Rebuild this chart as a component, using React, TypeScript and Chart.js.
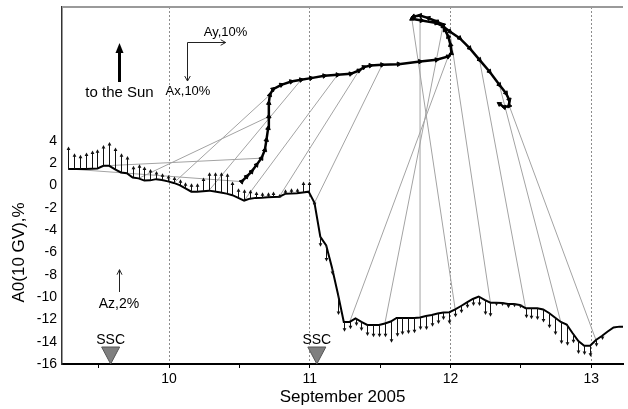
import React, { useEffect, useRef } from "react";
import { Chart, registerables } from "chart.js";

Chart.register(...registerables);

const FONT = '"Liberation Sans", Arial, sans-serif';

// Axis ranges (days of September 2005, UT) and A0 scale (%)
const X_MIN = 9.2394;
const X_MAX = 13.2254;
const Y_MIN = -16;
const Y_MAX = 16;
const Y_LABEL_MAX = 4;
const X_TICK_STEP = 0.5;
const Y_TICK_STEP = 2;

// hourly series start
const START_DAY = 9.2833;
const STEP_DAY = 1 / 24;

// A0(10 GV), % — hourly
const a0 = [
  1.49, 1.49, 1.49, 1.49, 1.51, 1.53, 1.76, 1.76, 1.44, 1.17,
  1.1, 0.71, 0.64, 0.44, 0.46, 0.57, 0.5, 0.37, 0.23, 0.03,
  -0.26, -0.55, -0.57, -0.51, -0.46, -0.53, -0.62, -0.73, -0.87, -1.11,
  -1.35, -1.18, -1.11, -1.09, -1.05, -1.02, -1.0, -0.75, -0.71, -0.69,
  -0.62, -0.55, -1.56, -4.61, -5.37, -7.39, -9.72, -12.23, -12.23, -11.92,
  -12.23, -12.5, -12.5, -12.5, -12.37, -12.19, -11.87, -11.87, -11.87, -11.87,
  -11.83, -11.7, -11.61, -11.47, -11.38, -11.36, -11.11, -10.8, -10.48, -10.17,
  -9.95, -10.26, -10.5, -10.5, -10.53, -10.62, -10.62, -10.71, -11.0, -11.0,
  -11.0, -11.11, -11.43, -11.83, -12.23, -12.46, -13.22, -13.94, -14.36, -14.36,
  -13.85, -13.49, -13.09, -12.73, -12.65, -12.65,
];

// Az, % — hourly (drawn as vertical arrows from the A0 curve)
const az = [
  2.0, 1.41, 1.26, 1.46, 1.62, 1.72, 1.88, 2.13, 1.96, 1.72,
  1.55, 1.05, 1.27, 1.26, 1.03, 0.74, 0.6, 0.58, 0.57, 0.54,
  0.56, 0.75, 0.78, 1.22, 1.65, 1.72, 1.81, 1.83, 1.22, 0.87,
  1.02, 0.79, 0.57, 0.48, 0.45, 0.48, 0.24, 0.42, 0.47, 0.45,
  0.97, 0.9, -0.3, -0.87, -1.45, -0.63, -1.88, -0.87, -0.65, -0.67,
  -0.81, -0.99, -1.1, -1.1, -1.24, -1.9, -1.68, -1.52, -1.43, -1.37,
  -1.12, -1.26, -1.05, -0.94, -0.67, -1.05, -0.7, -0.65, -0.52, -0.63,
  -0.85, -1.35, -1.26, -0.3, -0.27, -0.39, -0.3, -0.3, -0.9, -0.99,
  -1.05, -1.18, -1.37, -1.57, -1.97, -1.9, -0.92, -1.17, -0.83, -0.99,
  -0.6, -0.36, -0.1,
];

// Equatorial vector (Ay to the right, Ax downward), % relative to the trace origin
const hodoAy = [
  0, 1.3, 2.6, 3.9, 5.19, 6.08, 6.49, 6.94, 7.12, 7.12,
  7.38, 8.23, 10.39, 12.99, 15.58, 18.18, 21.66, 25.12, 28.57, 30.75,
  32.05, 33.77, 36.81, 41.14, 46.75, 51.09, 54.13, 54.99, 54.73, 54.13,
  53.25, 52.83, 51.09, 48.94, 46.75, 45.04, 44.6, 47.19, 51.09, 52.83,
  54.55, 57.14, 59.74, 62.34, 64.94, 67.53, 69.27, 70.13, 70.13, 68.83,
  67.53,
];
const hodoAx = [
  0, -1.3, -2.6, -4.34, -6.08, -8.23, -10.83, -13.87, -16.88, -20.36,
  -22.52, -24.0, -25.12, -25.97, -26.42, -26.86, -27.45, -27.71, -27.97, -28.83,
  -29.71, -30.13, -30.31, -30.49, -31.17, -31.61, -32.47, -33.35, -35.51, -37.66,
  -39.4, -40.7, -41.56, -42.44, -43.12, -42.86, -42.26, -41.82, -41.14, -40.26,
  -38.96, -37.25, -34.65, -31.61, -28.57, -25.12, -22.96, -21.22, -19.66, -19.32,
  -20.18,
];

// where the vector trace is anchored on the chart, and its scale
const HODO_ORIGIN_DAY = 10.516;
const HODO_ORIGIN_VAL = 0.35;
const DAY_PER_PCT = 0.02711;
const VAL_PER_PCT = 0.3453;

// 6-hourly links: hour index on A0 -> point index on the vector trace
const linkHours = [0, 6, 12, 18, 24, 30, 36, 42, 48, 54, 60, 66, 72, 78, 84, 90];
const linkHodo = [0, 4, 8, 10, 14, 17, 19, 22, 26, 31, 34, 36, 40, 43, 45, 48];

// storm sudden commencements
const sscDays = [9.585, 11.05];

export default function App() {
  const ref = useRef<HTMLCanvasElement>(null);

  useEffect(() => {
    const canvas = ref.current;
    if (!canvas) return;
    const timeOf = (k: number) => START_DAY + k * STEP_DAY;
    const a0Data = a0.map((v, k) => ({ x: timeOf(k), y: v }));
    const hodoData = hodoAy.map((ay, i) => ({
      x: HODO_ORIGIN_DAY + ay * DAY_PER_PCT,
      y: HODO_ORIGIN_VAL - hodoAx[i] * VAL_PER_PCT,
    }));
    const n = hodoAy.length;
    const hodoRot = hodoAy.map((_, i) => {
      const p = Math.max(i - 1, 0);
      const q = Math.min(i + 1, n - 1);
      const dx = hodoAy[q] - hodoAy[p];
      const dy = hodoAx[q] - hodoAx[p];
      return (Math.atan2(dy, dx) * 180) / Math.PI + 90;
    });

    const openHead = (ctx: CanvasRenderingContext2D, x1: number, y1: number, x2: number, y2: number, len: number, w: number) => {
      const a = Math.atan2(y2 - y1, x2 - x1);
      ctx.beginPath();
      ctx.moveTo(x1, y1);
      ctx.lineTo(x2, y2);
      ctx.moveTo(x2 - len * Math.cos(a) + w * Math.sin(a), y2 - len * Math.sin(a) - w * Math.cos(a));
      ctx.lineTo(x2, y2);
      ctx.lineTo(x2 - len * Math.cos(a) - w * Math.sin(a), y2 - len * Math.sin(a) + w * Math.cos(a));
      ctx.stroke();
    };
    const filledHead = (ctx: CanvasRenderingContext2D, x: number, y: number, dir: number, len: number, w: number) => {
      ctx.beginPath();
      ctx.moveTo(x, y);
      ctx.lineTo(x - w, y - dir * len);
      ctx.lineTo(x + w, y - dir * len);
      ctx.closePath();
      ctx.fill();
    };

    const decor = {
      id: "decor",
      beforeDatasetsDraw(chart: any) {
        const { ctx, chartArea: ca, scales } = chart;
        const x = scales.x, y = scales.y;
        ctx.save();
        ctx.beginPath();
        ctx.rect(ca.left, ca.top, ca.right - ca.left, ca.bottom - ca.top);
        ctx.clip();
        ctx.strokeStyle = "#a3a3a3";
        ctx.lineWidth = 1;
        linkHours.forEach((k, i) => {
          const h = hodoData[linkHodo[i]];
          ctx.beginPath();
          ctx.moveTo(x.getPixelForValue(timeOf(k)), y.getPixelForValue(a0[k]));
          ctx.lineTo(x.getPixelForValue(h.x), y.getPixelForValue(h.y));
          ctx.stroke();
        });
        ctx.restore();
      },
      afterDatasetsDraw(chart: any) {
        const { ctx, chartArea: ca, scales } = chart;
        const x = scales.x, y = scales.y;
        ctx.save();
        // Az arrows
        ctx.strokeStyle = "#111";
        ctx.fillStyle = "#111";
        ctx.lineWidth = 1;
        az.forEach((v, k) => {
          const px = Math.round(x.getPixelForValue(timeOf(k))) + 0.5;
          const y0 = y.getPixelForValue(a0[k]);
          const y1 = y.getPixelForValue(a0[k] + v);
          if (Math.abs(y1 - y0) < 1.5) return;
          const dir = y1 < y0 ? -1 : 1;
          ctx.beginPath();
          ctx.moveTo(px, y0);
          ctx.lineTo(px, y1 - dir * 2);
          ctx.stroke();
          filledHead(ctx, px, y1, dir, 3.5, 1.9);
        });
        // top frame line
        ctx.strokeStyle = "#9a9a9a";
        ctx.lineWidth = 2;
        ctx.beginPath();
        ctx.moveTo(ca.left, ca.top);
        ctx.lineTo(ca.right, ca.top);
        ctx.stroke();
        // SSC markers
        sscDays.forEach((d) => {
          const cx = x.getPixelForValue(d);
          ctx.beginPath();
          ctx.moveTo(cx - 9, ca.bottom - 17);
          ctx.lineTo(cx + 9, ca.bottom - 17);
          ctx.lineTo(cx, ca.bottom);
          ctx.closePath();
          ctx.fillStyle = "#7f7f7f";
          ctx.fill();
          ctx.strokeStyle = "#555";
          ctx.lineWidth = 1;
          ctx.stroke();
          ctx.fillStyle = "#000";
          ctx.font = `14px ${FONT}`;
          ctx.textAlign = "center";
          ctx.textBaseline = "middle";
          ctx.fillText("SSC", cx, ca.bottom - 24);
        });
        // "to the Sun"
        ctx.strokeStyle = "#000";
        ctx.fillStyle = "#000";
        ctx.lineWidth = 3;
        ctx.beginPath();
        ctx.moveTo(119.5, 82);
        ctx.lineTo(119.5, 51);
        ctx.stroke();
        filledHead(ctx, 119.5, 43, -1, 10, 4);
        ctx.font = `15px ${FONT}`;
        ctx.textAlign = "center";
        ctx.textBaseline = "middle";
        ctx.fillText("to the Sun", 119.5, 93);
        // Ay / Ax scale arrows (10%)
        const ox = 187.5, oy = 42.5;
        const lenX = x.getPixelForValue(X_MIN + 10 * DAY_PER_PCT) - x.getPixelForValue(X_MIN);
        const lenY = y.getPixelForValue(0) - y.getPixelForValue(10 * VAL_PER_PCT);
        ctx.strokeStyle = "#222";
        ctx.lineWidth = 1;
        openHead(ctx, ox, oy, ox + lenX, oy, 5, 2.8);
        openHead(ctx, ox, oy, ox, oy + lenY, 5, 2.8);
        ctx.font = `13px ${FONT}`;
        ctx.fillText("Ay,10%", 225.5, 32);
        ctx.fillText("Ax,10%", 188, 91);
        // Az scale arrow (2%)
        const azBase = 292;
        const azLen = y.getPixelForValue(0) - y.getPixelForValue(2);
        openHead(ctx, 119.5, azBase, 119.5, azBase - azLen, 5, 2.5);
        ctx.font = `14px ${FONT}`;
        ctx.fillText("Az,2%", 119, 304);
        // y axis title
        ctx.save();
        ctx.translate(19, y.getPixelForValue(-6));
        ctx.rotate(-Math.PI / 2);
        ctx.font = `17px ${FONT}`;
        ctx.fillStyle = "#000";
        ctx.fillText("A0(10 GV),%", 0, 0);
        ctx.restore();
        ctx.restore();
      },
    };

    const chart = new Chart(canvas, {
      type: "scatter",
      data: {
        datasets: [
          {
            data: a0Data,
            showLine: true,
            borderColor: "#000",
            borderWidth: 2,
            pointRadius: 0,
            tension: 0,
          },
          {
            data: hodoData,
            showLine: true,
            borderColor: "#000",
            borderWidth: 2.5,
            pointStyle: "triangle",
            pointRadius: 2.6,
            pointRotation: hodoRot,
            pointBackgroundColor: "#000",
            pointBorderColor: "#000",
            pointBorderWidth: 1,
            tension: 0,
          },
        ],
      },
      options: {
        responsive: false,
        animation: false,
        events: [],
        layout: { padding: { top: 7, left: 0, right: 0, bottom: 0 } },
        plugins: { legend: { display: false }, tooltip: { enabled: false } },
        scales: {
          x: {
            type: "linear",
            min: X_MIN,
            max: X_MAX,
            afterFit: (s: any) => {
              s.height = 45;
              s.paddingLeft = 0;
              s.paddingRight = 0;
            },
            ticks: {
              stepSize: X_TICK_STEP,
              includeBounds: false,
              autoSkip: false,
              maxRotation: 0,
              padding: 3,
              color: "#000",
              font: { family: FONT, size: 14 },
              callback: (v: any) => (Number.isInteger(v) ? String(v) : ""),
            },
            grid: {
              color: (c: any) => (c.tick && Number.isInteger(c.tick.value) ? "#8c8c8c" : "transparent"),
              lineWidth: 1,
              drawTicks: true,
              tickLength: 4,
              tickColor: "#000",
            },
            border: { display: true, color: "#000", width: 2, dash: [2, 2] },
            title: {
              display: true,
              text: "September 2005",
              color: "#000",
              font: { family: FONT, size: 17 },
              padding: { top: 0, bottom: 1 },
            },
          },
          y: {
            type: "linear",
            min: Y_MIN,
            max: Y_MAX,
            afterFit: (s: any) => {
              s.width = 62;
              s.paddingTop = 0;
              s.paddingBottom = 0;
            },
            ticks: {
              stepSize: Y_TICK_STEP,
              padding: 5,
              color: "#000",
              font: { family: FONT, size: 14 },
              callback: (v: any) => (v <= Y_LABEL_MAX ? String(v) : ""),
            },
            grid: { display: false, drawTicks: false },
            border: { display: true, color: "#333", width: 1.5 },
          },
        },
      },
      plugins: [decor],
    } as any);

    return () => chart.destroy();
  }, []);

  return (
    <div style={{ position: "absolute", left: 0, top: 0, width: 628, height: 409, background: "#fff" }}>
      <canvas ref={ref} width={628} height={409} style={{ display: "block", width: 628, height: 409 }} />
    </div>
  );
}
